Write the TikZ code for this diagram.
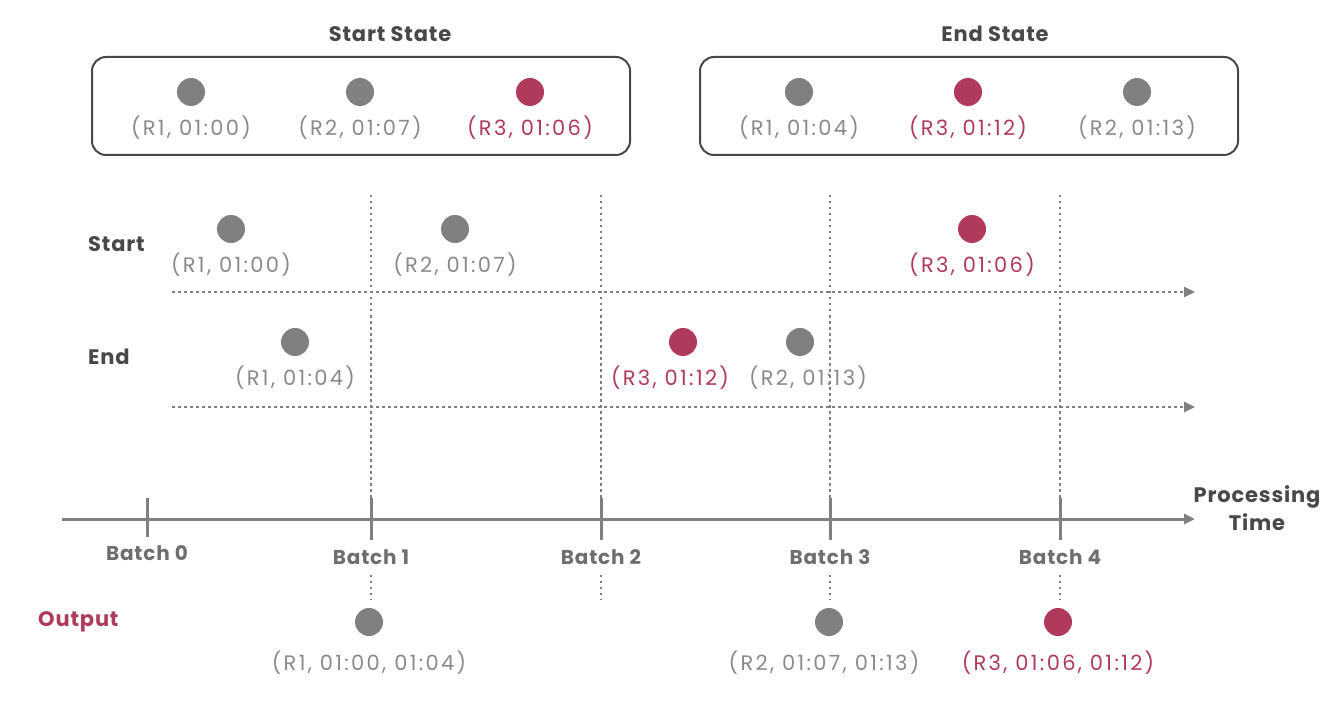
\documentclass[tikz,border=0pt]{standalone}
\usepackage{fontspec}
\setmainfont{Poppins}
\newfontfamily\lblfont{Poppins}[LetterSpace=11]
\newfontfamily\headfont{Poppins}[LetterSpace=4]
\usepackage{tikz}
\usetikzlibrary{arrows.meta}
\usetikzlibrary{positioning}
\definecolor{dotgray}{RGB}{128,128,128}
\definecolor{txtgray}{RGB}{138,138,138}
\definecolor{headgray}{RGB}{72,72,72}
\definecolor{batchgray}{RGB}{110,110,110}
\definecolor{wine}{RGB}{176,58,91}
\tikzset{
    dot/.style = {circle, inner sep=0pt, minimum size=28pt},
    gray_dot/.style = {dot, fill=dotgray},
    red_dot/.style = {dot, fill=wine},
    lbl/.style = {inner sep=0pt, font=\lblfont\fontsize{21}{24}\selectfont},
    gray_lbl/.style = {lbl, txtgray},
    red_lbl/.style = {lbl, wine},
    head/.style = {inner sep=0pt, headgray, font=\headfont\fontsize{21}{24}\selectfont\bfseries},
    batch/.style = {inner sep=0pt, batchgray, font=\headfont\fontsize{20}{24}\selectfont\bfseries},
    state_box/.style = {draw=headgray, line width=2pt, rounded corners=14pt},
    grid_line/.style = {dotgray, line width=2.5pt, dash pattern=on 2.5pt off 3.5pt},
    axis_line/.style = {dotgray, line width=3pt}
}

\begin{document}
\begin{tikzpicture}[x=1pt, y=-1pt, >={Triangle[length=11pt, width=10pt]}]
\useasboundingbox (0,0) rectangle (1333,703);

% state boxes
\draw[state_box] (92,57) rectangle (630,155);
\draw[state_box] (700,57) rectangle (1238,155);
\node[head] (start_state) at (390,34) {Start State};
\node[head] (end_state) at (995,34) {End State};

\node[gray_dot] (ss1) at (191,92) {};
\node[gray_lbl, below=9pt of ss1] (ss1_l) {(R1, 01:00)};
\node[gray_dot] (ss2) at (360,92) {};
\node[gray_lbl, below=9pt of ss2] (ss2_l) {(R2, 01:07)};
\node[red_dot] (ss3) at (530,92) {};
\node[red_lbl, below=9pt of ss3] (ss3_l) {(R3, 01:06)};

\node[gray_dot] (es1) at (799,92) {};
\node[gray_lbl, below=9pt of es1] (es1_l) {(R1, 01:04)};
\node[red_dot] (es2) at (968,92) {};
\node[red_lbl, below=9pt of es2] (es2_l) {(R3, 01:12)};
\node[gray_dot] (es3) at (1137,92) {};
\node[gray_lbl, below=9pt of es3] (es3_l) {(R2, 01:13)};

% batch lines
\coordinate (top1) at (371,195);
\coordinate (top2) at (601,195);
\coordinate (top3) at (830,195);
\coordinate (top4) at (1060,195);
\coordinate (bot1) at (371,535);
\coordinate (bot2) at (601,535);
\coordinate (bot3) at (830,535);
\coordinate (bot4) at (1060,535);
\draw[grid_line] (top1) -- (bot1);
\draw[grid_line] (top2) -- (bot2);
\draw[grid_line] (top3) -- (bot3);
\draw[grid_line] (top4) -- (bot4);

% rows
\node[head, anchor=west] (start) at (88,244) {Start};
\node[head, anchor=west] (end) at (88,357) {End};
\coordinate (row1_a) at (172,292);
\coordinate (row1_b) at (1195,292);
\coordinate (row2_a) at (172,407);
\coordinate (row2_b) at (1195,407);
\draw[grid_line, ->] (row1_a) -- (row1_b);
\draw[grid_line, ->] (row2_a) -- (row2_b);

\node[gray_dot] (st1) at (231,229) {};
\node[gray_lbl, below=9pt of st1] (st1_l) {(R1, 01:00)};
\node[gray_dot] (st2) at (455,229) {};
\node[gray_lbl, below=9pt of st2] (st2_l) {(R2, 01:07)};
\node[red_dot] (st3) at (972,229) {};
\node[red_lbl, below=9pt of st3] (st3_l) {(R3, 01:06)};

\node[gray_dot] (en1) at (295,342) {};
\node[gray_lbl, below=9pt of en1] (en1_l) {(R1, 01:04)};
\node[red_dot] (en2) at (683,342) {};
\node[red_lbl, below=9pt of en2, xshift=-13pt] (en2_l) {(R3, 01:12)};
\node[gray_dot] (en3) at (800,342) {};
\node[gray_lbl, below=9pt of en3, xshift=8pt] (en3_l) {(R2, 01:13)};

% processing time axis
\coordinate (axis_a) at (62,519);
\coordinate (axis_b) at (1195,519);
\draw[axis_line, ->] (axis_a) -- (axis_b);
\node[head, font=\headfont\fontsize{21}{28}\selectfont\bfseries, align=center] (ptime) at (1257,508) {Processing\\Time};

\draw[axis_line] (147,498) -- (147,537);
\draw[axis_line] (371,498) -- (371,540);
\draw[axis_line] (601,498) -- (601,540);
\draw[axis_line] (830,498) -- (830,540);
\draw[axis_line] (1060,498) -- (1060,540);

\node[batch] (batch0) at (147,553) {Batch 0};
\node[batch] (batch1) at (371,557) {Batch 1};
\node[batch] (batch2) at (601,557) {Batch 2};
\node[batch] (batch3) at (830,557) {Batch 3};
\node[batch] (batch4) at (1060,557) {Batch 4};

\coordinate (low1) at (371,600);
\coordinate (low2) at (601,600);
\coordinate (low3) at (830,600);
\coordinate (low4) at (1060,600);
\draw[grid_line] (batch1.south) ++(0,-10pt) -- (low1);
\draw[grid_line] (batch2.south) ++(0,-10pt) -- (low2);
\draw[grid_line] (batch3.south) ++(0,-10pt) -- (low3);
\draw[grid_line] (batch4.south) ++(0,-10pt) -- (low4);

% output
\node[head, wine, anchor=west] (output) at (38,622) {Output};
\node[gray_dot] (out1) at (369,622) {};
\node[gray_lbl, below=14pt of out1] (out1_l) {(R1, 01:00, 01:04)};
\node[gray_dot] (out2) at (829,622) {};
\node[gray_lbl, below=14pt of out2, xshift=-5pt] (out2_l) {(R2, 01:07, 01:13)};
\node[red_dot] (out3) at (1058,622) {};
\node[red_lbl, below=14pt of out3] (out3_l) {(R3, 01:06, 01:12)};
\end{tikzpicture}
\end{document}
